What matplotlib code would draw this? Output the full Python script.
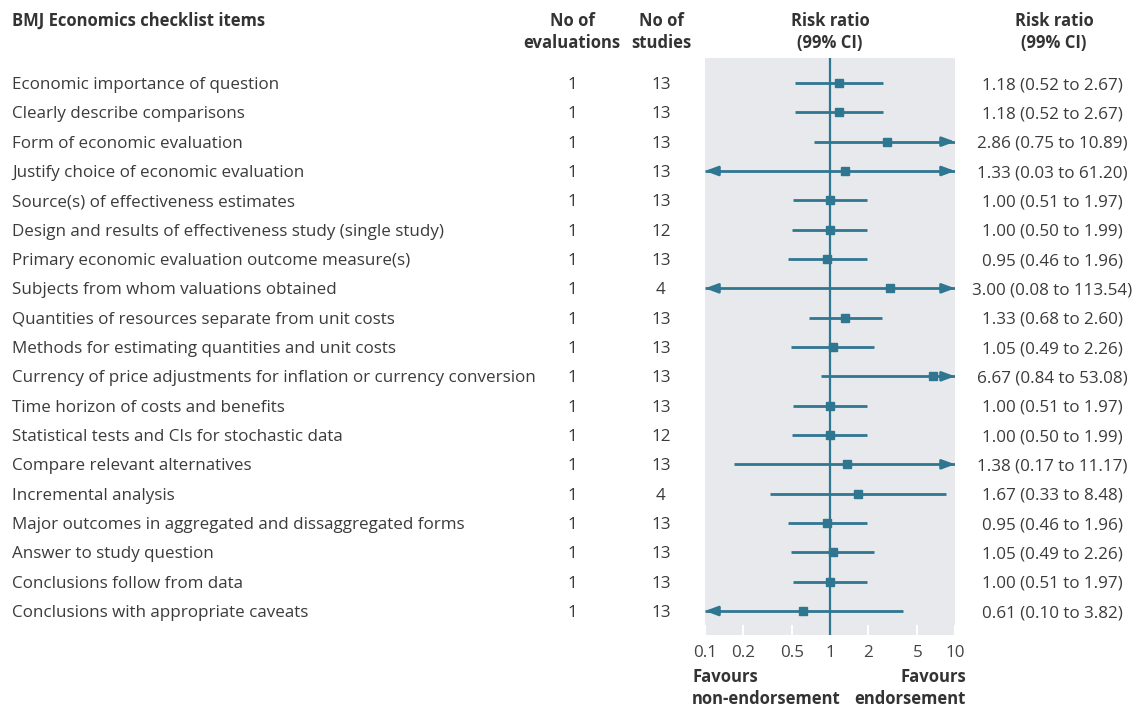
#!/usr/bin/env python3
"""Forest plot: BMJ Economics checklist items, risk ratio (99% CI)."""

import matplotlib
matplotlib.use("Agg")
import matplotlib.pyplot as plt
import matplotlib.transforms as mtransforms

items = [
    "Economic importance of question",
    "Clearly describe comparisons",
    "Form of economic evaluation",
    "Justify choice of economic evaluation",
    "Source(s) of effectiveness estimates",
    "Design and results of effectiveness study (single study)",
    "Primary economic evaluation outcome measure(s)",
    "Subjects from whom valuations obtained",
    "Quantities of resources separate from unit costs",
    "Methods for estimating quantities and unit costs",
    "Currency of price adjustments for inflation or currency conversion",
    "Time horizon of costs and benefits",
    "Statistical tests and CIs for stochastic data",
    "Compare relevant alternatives",
    "Incremental analysis",
    "Major outcomes in aggregated and dissaggregated forms",
    "Answer to study question",
    "Conclusions follow from data",
    "Conclusions with appropriate caveats",
]
n_evaluations = [1] * 19
n_studies = [13, 13, 13, 13, 13, 12, 13, 4, 13, 13, 13, 13, 12, 13, 4, 13, 13, 13, 13]
rr = [1.18, 1.18, 2.86, 1.33, 1.00, 1.00, 0.95, 3.00, 1.33, 1.05,
      6.67, 1.00, 1.00, 1.38, 1.67, 0.95, 1.05, 1.00, 0.61]
ci_low = [0.52, 0.52, 0.75, 0.03, 0.51, 0.50, 0.46, 0.08, 0.68, 0.49,
          0.84, 0.51, 0.50, 0.17, 0.33, 0.46, 0.49, 0.51, 0.10]
ci_high = [2.67, 2.67, 10.89, 61.20, 1.97, 1.99, 1.96, 113.54, 2.60, 2.26,
           53.08, 1.97, 1.99, 11.17, 8.48, 1.96, 2.26, 1.97, 3.82]
xticks = [0.1, 0.2, 0.5, 1, 2, 5, 10]
xtick_labels = ["0.1", "0.2", "0.5", "1", "2", "5", "10"]

W, H = 1141, 708
TEXT = "#3b3b3b"
HEAD = "#333333"
TEAL = "#2f7690"
PANEL = "#e8e9ec"
FONT = "Open Sans"
FS = 12.25

plt.rcParams["font.family"] = [FONT, "DejaVu Sans"]


def fx(px):
    return px / W


def fy(py):
    return 1 - py / H


fig = plt.figure(figsize=(W / 100, H / 100), dpi=100)
ax = fig.add_axes([fx(705), fy(635), fx(955) - fx(705), fy(58) - fy(635)])
ax.set_facecolor(PANEL)
for s in ax.spines.values():
    s.set_visible(False)

XMIN, XMAX = 0.1, 10
ax.set_xscale("log")
ax.set_xlim(XMIN, XMAX)
step = (611 - 83) / 18
ax.set_ylim(18 + (635 - 611) / step, -(83 - 58) / step)
ax.set_yticks([])
ax.set_xticks(xticks)
ax.set_xticklabels(xtick_labels)
ax.minorticks_off()
ax.tick_params(axis="x", direction="in", color="white", length=7, width=1.5,
               labelcolor="#444444", labelsize=FS, pad=7)

ax.axvline(1, color=TEAL, lw=1.6, zorder=2)

arrow = dict(arrowstyle="-|>,head_length=0.75,head_width=0.28",
             color=TEAL, lw=2, shrinkA=0, shrinkB=0)
for i in range(len(items)):
    lo = max(ci_low[i], XMIN)
    hi = min(ci_high[i], XMAX)
    ax.plot([lo, hi], [i, i], color=TEAL, lw=2, solid_capstyle="butt", zorder=3)
    if ci_low[i] <= XMIN:
        ax.annotate("", xy=(XMIN, i), xytext=(XMIN * 1.25, i),
                    arrowprops=arrow, zorder=4)
    if ci_high[i] >= XMAX:
        ax.annotate("", xy=(XMAX, i), xytext=(XMAX / 1.25, i),
                    arrowprops=arrow, zorder=4)
    ax.plot(rr[i], i, marker="s", ms=6, color=TEAL, zorder=5)

# text columns share the row positions of the forest axes
tr = mtransforms.blended_transform_factory(fig.transFigure, ax.transData)
row = dict(transform=tr, va="center_baseline", fontsize=FS, color=TEXT)
for i, name in enumerate(items):
    fig.text(fx(12), i, name, ha="left", **row)
    fig.text(fx(572), i, str(n_evaluations[i]), ha="center", **row)
    fig.text(fx(661), i, str(n_studies[i]), ha="center", **row)
    label = f"{rr[i]:.2f} ({ci_low[i]:.2f} to {ci_high[i]:.2f})"
    fig.text(fx(1052), i, label, ha="center", **row)

# headers
hd = dict(fontsize=12, fontweight="bold", color=HEAD, va="center",
          linespacing=1.25)
fig.text(fx(12), fy(21), "BMJ Economics checklist items", ha="left", **hd)
fig.text(fx(572), fy(32), "No of\nevaluations", ha="center", **hd)
fig.text(fx(661), fy(32), "No of\nstudies", ha="center", **hd)
fig.text(fx(830), fy(32), "Risk ratio\n(99% CI)", ha="center", **hd)
fig.text(fx(1054), fy(32), "Risk ratio\n(99% CI)", ha="center", **hd)
fig.text(fx(692), fy(688), "Favours\nnon-endorsement", ha="left", **hd)
fig.text(fx(966), fy(688), "Favours\nendorsement", ha="right",
         multialignment="right", **hd)

fig.savefig("out.png", dpi=100, facecolor="white")
